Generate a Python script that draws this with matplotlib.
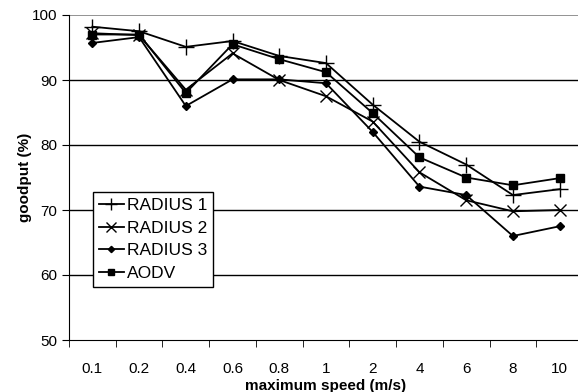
import matplotlib
matplotlib.use('Agg')
import matplotlib.pyplot as plt

plt.rcParams['font.family'] = ['Liberation Sans', 'DejaVu Sans']

speeds = ['0.1', '0.2', '0.4', '0.6', '0.8', '1', '2', '4', '6', '8', '10']
radius1 = [98.2, 97.5, 95.1, 96.0, 93.7, 92.6, 86.2, 80.5, 77.0, 72.3, 73.2]
radius2 = [97.2, 96.9, 88.5, 94.1, 90.0, 87.5, 83.6, 75.8, 71.5, 69.8, 70.0]
radius3 = [95.7, 96.6, 86.0, 90.1, 90.1, 89.5, 82.0, 73.6, 72.3, 66.0, 67.5]
aodv = [97.0, 97.0, 88.0, 95.5, 93.2, 91.2, 84.9, 78.1, 75.0, 73.8, 74.9]

fig = plt.figure(figsize=(5.78, 3.92), dpi=100)
ax = fig.add_axes([69 / 578, 1 - 340 / 392, 514 / 578, 325 / 392])

x = list(range(len(speeds)))
ax.plot(x, radius1, color='black', lw=1.3, marker='+', ms=11, mew=1, label='RADIUS 1')
ax.plot(x, radius2, color='black', lw=1.3, marker='x', ms=9, mew=1, label='RADIUS 2')
ax.plot(x, radius3, color='black', lw=1.3, marker='D', ms=4, label='RADIUS 3')
ax.plot(x, aodv, color='black', lw=1.3, marker='s', ms=6, label='AODV')

ax.set_ylim(50, 100)
ax.set_yticks([50, 60, 70, 80, 90, 100])
ax.set_xlim(-0.5, len(speeds) - 0.5)
ax.set_xticks(x)
ax.set_xticklabels(speeds)
ax.set_xticks([i - 0.5 for i in range(len(speeds) + 1)], minor=True)
ax.tick_params(axis='x', which='major', length=0, pad=16, labelsize=11)
ax.tick_params(axis='x', which='minor', length=5, direction='out', color='black')
ax.tick_params(axis='y', length=5, labelsize=11)

for v in [60, 70, 80, 90]:
    ax.axhline(v, color='black', lw=1, zorder=0)
ax.axhline(100, color='#808080', lw=1.2, zorder=0)

ax.spines['top'].set_visible(False)
ax.spines['right'].set_visible(False)

ax.set_xlabel('maximum speed (m/s)', fontsize=11, fontweight='bold', labelpad=2)
ax.set_ylabel('goodput (%)', fontsize=11, fontweight='bold', labelpad=0)

leg = ax.legend(loc='upper left', bbox_to_anchor=(0.047, 0.455), fontsize=12.5,
                frameon=True, fancybox=False, edgecolor='black', framealpha=1,
                handlelength=1.4, handletextpad=0.2, borderpad=0.35, labelspacing=0.42,
                borderaxespad=0)
leg.get_frame().set_linewidth(1)
for h in leg.legend_handles:
    h.set_markersize(h.get_markersize() * 0.8)

fig.savefig('out.png', dpi=100)
